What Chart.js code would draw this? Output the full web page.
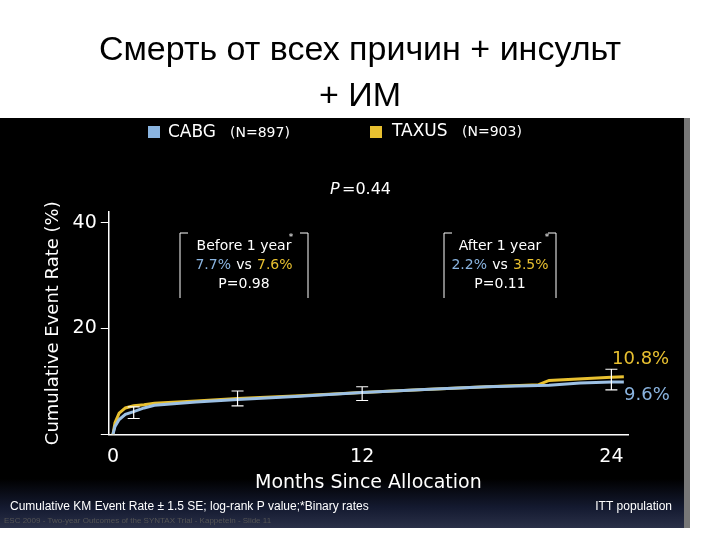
<!DOCTYPE html>
<html>
<head>
<meta charset="utf-8">
<script src="https://cdn.jsdelivr.net/npm/chart.js@4"></script>
<style>body{margin:0;background:#fff}canvas{display:block}</style>
</head>
<body>
<canvas id="km" width="720" height="540"></canvas>
<script>
// months and cumulative event rates (%)
var cabgX = [0, 0.1, 0.3, 0.6, 1, 1.5, 2, 4, 6, 9, 12, 15, 18, 21, 22.5, 24, 24.6];
var cabgY = [0, 1.5, 2.8, 3.8, 4.3, 5.0, 5.5, 6.1, 6.6, 7.2, 7.9, 8.5, 9.0, 9.3, 9.7, 9.9, 9.9];
var taxusX = [0, 0.1, 0.3, 0.6, 1, 1.5, 2, 4, 6, 9, 12, 15, 18, 20.5, 21, 24, 24.6];
var taxusY = [0, 2.2, 4.0, 5.0, 5.4, 5.6, 5.9, 6.3, 6.8, 7.3, 7.9, 8.5, 9.0, 9.4, 10.2, 10.8, 10.9];
// error bars (±1.5 SE)
var errX = [1, 6, 12, 24];
var errLo = [3.0, 5.4, 6.4, 8.4];
var errHi = [5.2, 8.2, 9.0, 12.3];
var yTicks = [20, 40];

function pts(xs, ys) { return xs.map(function (x, i) { return {x: x, y: ys[i]}; }); }

var bgPlugin = {
  id: 'bg',
  beforeDraw: function (c) {
    var ctx = c.ctx;
    ctx.save();
    ctx.fillStyle = '#fff';
    ctx.fillRect(0, 0, 720, 540);
    ctx.fillStyle = '#000';
    ctx.font = '34px "Liberation Sans", Arial, sans-serif';
    ctx.textAlign = 'center';
    ctx.textBaseline = 'alphabetic';
    ctx.fillText('Смерть от всех причин + инсульт', 360, 60);
    ctx.fillText('+ ИМ', 360, 106);
    var g = ctx.createLinearGradient(0, 118, 0, 528);
    g.addColorStop(0, '#000');
    g.addColorStop(0.88, '#000');
    g.addColorStop(0.95, '#141a30');
    g.addColorStop(1, '#2a3048');
    ctx.fillStyle = g;
    ctx.fillRect(0, 118, 688, 410);
    ctx.fillStyle = '#777';
    ctx.fillRect(684, 118, 6, 410);
    ctx.restore();
  },
  afterDraw: function (c) {
    var ctx = c.ctx, xs = c.scales.x, ys = c.scales.y;
    ctx.save();
    // error bars
    ctx.strokeStyle = '#fff';
    ctx.lineWidth = 1.2;
    errX.forEach(function (m, i) {
      var px = xs.getPixelForValue(m), a = ys.getPixelForValue(errLo[i]), b = ys.getPixelForValue(errHi[i]);
      ctx.beginPath();
      ctx.moveTo(px, a); ctx.lineTo(px, b);
      ctx.moveTo(px - 6, a); ctx.lineTo(px + 6, a);
      ctx.moveTo(px - 6, b); ctx.lineTo(px + 6, b);
      ctx.stroke();
    });
    var f = '"DejaVu Sans", sans-serif';
    // legend
    ctx.fillStyle = '#8ab4e0'; ctx.fillRect(148, 126, 12, 12);
    ctx.fillStyle = '#e8c030'; ctx.fillRect(370, 126, 12, 12);
    ctx.textBaseline = 'middle'; ctx.textAlign = 'left';
    ctx.fillStyle = '#fff';
    ctx.font = '17px ' + f; ctx.fillText('CABG', 168, 133);
    ctx.font = '14px ' + f; ctx.fillText('(N=897)', 230, 133);
    ctx.font = '17px ' + f; ctx.fillText('TAXUS', 392, 132);
    ctx.font = '14px ' + f; ctx.fillText('(N=903)', 462, 132);
    ctx.font = 'italic 16px ' + f; ctx.fillText('P', 330, 190);
    ctx.font = '16px ' + f; ctx.fillText('=0.44', 342, 190);
    // boxes
    function box(x, w, t1, a, b, p) {
      ctx.strokeStyle = '#fff'; ctx.lineWidth = 1;
      ctx.beginPath();
      ctx.moveTo(x, 298); ctx.lineTo(x, 233); ctx.lineTo(x + 8, 233);
      ctx.moveTo(x + w - 8, 233); ctx.lineTo(x + w, 233); ctx.lineTo(x + w, 298);
      ctx.stroke();
      var cx = x + w / 2;
      ctx.textAlign = 'center'; ctx.font = '14px ' + f; ctx.fillStyle = '#fff';
      ctx.fillText(t1, cx, 246);
      ctx.font = '9px ' + f; ctx.fillText('*', cx + 47, 238);
      ctx.font = '14px ' + f; ctx.textAlign = 'right'; ctx.fillStyle = '#8ab4e0';
      ctx.fillText(a, cx - 13, 265);
      ctx.textAlign = 'center'; ctx.fillStyle = '#fff'; ctx.fillText('vs', cx, 265);
      ctx.textAlign = 'left'; ctx.fillStyle = '#e8c030'; ctx.fillText(b, cx + 13, 265);
      ctx.fillStyle = '#fff'; ctx.textAlign = 'center';
      ctx.fillText(p, cx, 284);
    }
    box(180, 128, 'Before 1 year', '7.7%', '7.6%', 'P=0.98');
    box(444, 112, 'After 1 year', '2.2%', '3.5%', 'P=0.11');
    // end labels
    ctx.textAlign = 'left'; ctx.font = '18px ' + f;
    ctx.fillStyle = '#e8c030'; ctx.fillText('10.8%', 612, 359);
    ctx.fillStyle = '#8ab4e0'; ctx.fillText('9.6%', 624, 395);
    // footer
    ctx.fillStyle = '#fff'; ctx.font = '12px "Liberation Sans", sans-serif';
    ctx.fillText('Cumulative KM Event Rate \u00b1 1.5 SE; log-rank P value;*Binary rates', 10, 507);
    ctx.textAlign = 'right'; ctx.fillText('ITT population', 672, 507);
    ctx.textAlign = 'left'; ctx.fillStyle = '#555'; ctx.font = '8px "Liberation Sans", sans-serif';
    ctx.fillText('ESC 2009 - Two-year Outcomes of the SYNTAX Trial - Kappetein - Slide 11', 4, 521);
    ctx.restore();
  }
};

new Chart(document.getElementById('km'), {
  type: 'line',
  data: {
    datasets: [
      {label: 'CABG', data: pts(cabgX, cabgY), borderColor: '#9cc0e4', borderWidth: 3, pointRadius: 0, stepped: false, tension: 0},
      {label: 'TAXUS', data: pts(taxusX, taxusY), borderColor: '#e8c030', borderWidth: 3, pointRadius: 0, tension: 0}
    ]
  },
  options: {
    responsive: false,
    animation: false,
    devicePixelRatio: 1,
    layout: {padding: {top: 212, left: 39, right: 92, bottom: 46}},
    plugins: {legend: {display: false}, tooltip: {enabled: false}},
    scales: {
      x: {
        type: 'linear', min: -0.2, max: 24.8,
        afterBuildTicks: function (s) { s.ticks = [{value: 0}, {value: 12}, {value: 24}]; },
        border: {color: '#fff', width: 1.5},
        grid: {display: false},
        ticks: {color: '#fff', font: {size: 19, family: '"DejaVu Sans", sans-serif'}},
        title: {display: true, text: 'Months Since Allocation', color: '#fff', padding: 0, font: {size: 19, family: '"DejaVu Sans", sans-serif'}}
      },
      y: {
        min: 0, max: 42,
        afterBuildTicks: function (s) { s.ticks = [{value: 0}].concat(yTicks.map(function (v) { return {value: v}; })); },
        border: {color: '#fff', width: 1.5},
        grid: {drawOnChartArea: false, color: '#fff', tickLength: 8},
        ticks: {color: '#fff', padding: 4, font: {size: 19, family: '"DejaVu Sans", sans-serif'},
          callback: function (v) { return v === 0 ? '' : v; }},
        title: {display: true, text: 'Cumulative Event Rate (%)', color: '#fff', font: {size: 18, family: '"DejaVu Sans", sans-serif'}}
      }
    }
  },
  plugins: [bgPlugin]
});
</script>
</body>
</html>
